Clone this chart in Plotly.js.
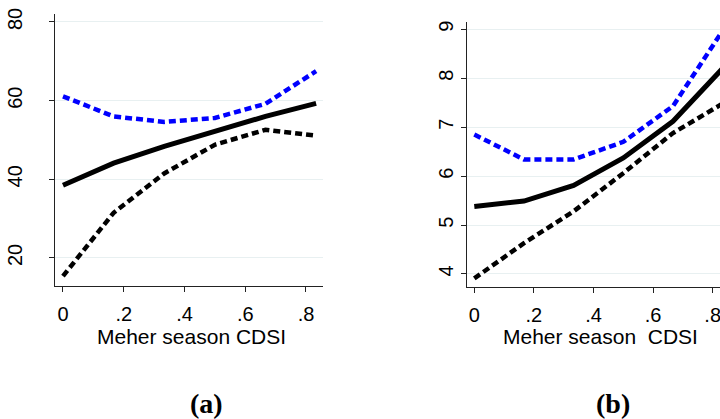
<!DOCTYPE html>
<html>
<head>
<meta charset="utf-8">
<script src="https://cdn.plot.ly/plotly-3.0.1.min.js"></script>
<style>
html,body{margin:0;padding:0;background:#fff;overflow:hidden;}
#chart{width:720px;height:419px;}
</style>
</head>
<body>
<div id="chart"></div>
<script>
// Data
const cdsi = [0, 0.1667, 0.3333, 0.5, 0.6667, 0.8333];
const aFit   = [38.5, 44.1, 48.4, 52.2, 56.0, 59.3];
const aUpper = [61.1, 56.0, 54.6, 55.6, 59.2, 67.5];
const aLower = [15.4, 31.5, 41.5, 48.8, 52.6, 51.1];
const bFit   = [5.38, 5.49, 5.81, 6.37, 7.12, 8.20];
const bUpper = [6.85, 6.34, 6.34, 6.70, 7.43, 8.97];
const bLower = [3.91, 4.63, 5.28, 6.06, 6.88, 7.48];
const xTickVals = [0, 0.2, 0.4, 0.6, 0.8];
const xTickText = ['0', '.2', '.4', '.6', '.8'];
const aTickVals = [20, 40, 60, 80];
const bTickVals = [4, 5, 6, 7, 8, 9];
const xTitleA = 'Meher season CDSI';
const xTitleB = 'Meher season  CDSI';
const panelA = '(a)';
const panelB = '(b)';

const W = 720, H = 419;
const px = v => v / W;
const py = v => (H - v) / H;

const solid = {color: '#000', width: 5, dash: 'solid'};
const dashBlue = {color: '#0000ff', width: 4.5, dash: '7px,4px'};
const dashBlack = {color: '#000', width: 4.5, dash: '7px,4px'};

const traces = [
  {x: cdsi, y: aLower, xaxis: 'x', yaxis: 'y', mode: 'lines', line: dashBlack},
  {x: cdsi, y: aUpper, xaxis: 'x', yaxis: 'y', mode: 'lines', line: dashBlue},
  {x: cdsi, y: aFit, xaxis: 'x', yaxis: 'y', mode: 'lines', line: solid},
  {x: cdsi, y: bLower, xaxis: 'x2', yaxis: 'y2', mode: 'lines', line: dashBlack},
  {x: cdsi, y: bUpper, xaxis: 'x2', yaxis: 'y2', mode: 'lines', line: dashBlue},
  {x: cdsi, y: bFit, xaxis: 'x2', yaxis: 'y2', mode: 'lines', line: solid}
];

const tickFont = {family: 'Liberation Sans, Arial, sans-serif', size: 20, color: '#000'};
const axCommon = {
  showline: true, linecolor: '#222', linewidth: 1,
  ticks: 'outside', ticklen: 5, tickcolor: '#222', tickwidth: 1,
  tickfont: tickFont, zeroline: false, fixedrange: true
};

const layout = {
  width: W, height: H,
  margin: {l: 0, r: 0, t: 0, b: 0},
  paper_bgcolor: '#fff', plot_bgcolor: '#fff',
  showlegend: false,
  xaxis: Object.assign({}, axCommon, {
    domain: [px(55), px(323)], range: [-0.0263, 0.856],
    tickvals: xTickVals, ticktext: xTickText, showgrid: false,
    anchor: 'y', ticklabelstandoff: 5
  }),
  yaxis: Object.assign({}, axCommon, {
    domain: [py(286), py(14)], range: [12.88, 82.03],
    tickvals: aTickVals, tickangle: -90, showgrid: true,
    gridcolor: '#e8f0f1', gridwidth: 1, anchor: 'x', ticklabelstandoff: 19
  }),
  xaxis2: Object.assign({}, axCommon, {
    domain: [px(466.7), 1], range: [-0.0255, 0.8245],
    tickvals: xTickVals, ticktext: xTickText, showgrid: false,
    anchor: 'y2', ticklabelstandoff: 5, ticklabeloverflow: 'allow'
  }),
  yaxis2: Object.assign({}, axCommon, {
    domain: [py(287.3), py(21.7)], range: [3.728, 9.155],
    tickvals: bTickVals, tickangle: -90, showgrid: true,
    gridcolor: '#e8f0f1', gridwidth: 1, anchor: 'x2', ticklabelstandoff: 0
  }),
  annotations: [
    {text: xTitleA, xref: 'paper', yref: 'paper', x: px(191.5), y: py(323),
     xanchor: 'center', yanchor: 'top', showarrow: false,
     font: {family: 'Liberation Sans, Arial, sans-serif', size: 21, color: '#000'}},
    {text: xTitleB, xref: 'paper', yref: 'paper', x: px(600.7), y: py(323),
     xanchor: 'center', yanchor: 'top', showarrow: false,
     font: {family: 'Liberation Sans, Arial, sans-serif', size: 21, color: '#000'}},
    {text: '<b>' + panelA + '</b>', xref: 'paper', yref: 'paper', x: px(207), y: py(403),
     xanchor: 'center', yanchor: 'middle', showarrow: false,
     font: {family: 'Liberation Serif, Times New Roman, serif', size: 28, color: '#000'}},
    {text: '<b>' + panelB + '</b>', xref: 'paper', yref: 'paper', x: px(612.5), y: py(403),
     xanchor: 'center', yanchor: 'middle', showarrow: false,
     font: {family: 'Liberation Serif, Times New Roman, serif', size: 28, color: '#000'}}
  ]
};

Plotly.newPlot('chart', traces, layout, {staticPlot: true, displayModeBar: false});
</script>
</body>
</html>
